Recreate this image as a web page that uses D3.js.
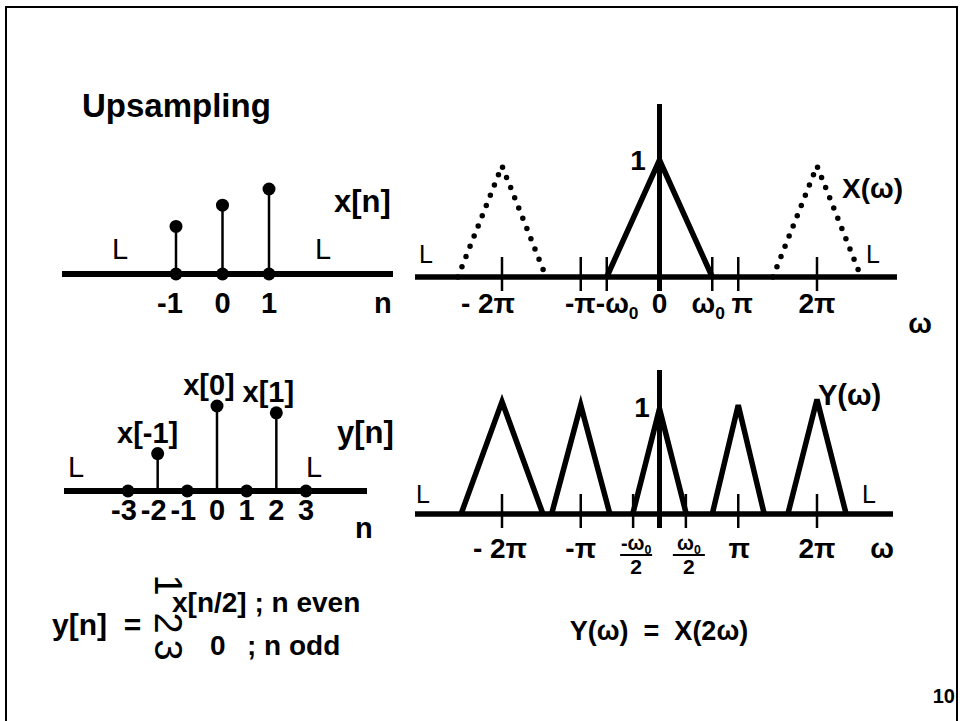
<!DOCTYPE html>
<html>
<head>
<meta charset="utf-8">
<script src="https://cdn.jsdelivr.net/npm/d3@7"></script>
<style>
  body { margin: 0; background: #fff; }
  text { font-family: 'Liberation Sans', Arial, sans-serif; fill: #000; white-space: pre; }
</style>
</head>
<body>
<div id="chart"></div>
<script>
// x[n] samples (top left)
const xnIndex = [-1, 0, 1];
const xnValue = [0.56, 0.81, 1.0];
const xnLabels = ["-1", "0", "1"];

// y[n] upsampled samples (bottom left)
const ynIndex = [-3, -2, -1, 0, 1, 2, 3];
const ynValue = [0, 0.44, 0, 1.0, 0, 0.92, 0];
const ynLabels = ["-3", "-2", "-1", "0", "1", "2", "3"];
const ynNames = ["", "x[-1]", "", "x[0]", "", "x[1]", ""];

// spectra, frequencies in units of pi
const w0 = 0.67;
const xwCenter = [0], xwHalf = [w0], xwHeight = [1];
const xwAliasCenter = [-2, 2], xwAliasHalf = [0.56, 0.56], xwAliasHeight = [0.95, 0.95];
const ywCenter = [-2, -1, 0, 1, 2];
const ywHalf = [0.52, 0.37, 0.34, 0.33, 0.37];
const ywHeight = [0.96, 0.93, 0.90, 0.93, 0.98];

const xwTicks = [-2, -1, -w0, w0, 1, 2];
const xwTickLabels = ["- 2π", "-π-ω0", "0", "ω0", "π", "2π"];
const xwLabelAt = [-2, -1, 0, w0, 1, 2];
const ywTicks = [-2, -1, -w0 / 2, w0 / 2, 1, 2];
const ywTickLabels = ["- 2π", "-π", "-ω0/2", "ω0/2", "π", "2π"];

const svg = d3.select("#chart").append("svg")
  .attr("width", 960).attr("height", 721);

// slide frame
svg.append("rect")
  .attr("x", 6).attr("y", 7).attr("width", 951).attr("height", 720)
  .attr("fill", "none").attr("stroke", "#000").attr("stroke-width", 2);

function label(x, y, t, size, opts = {}) {
  const el = svg.append("text")
    .attr("x", x).attr("y", y)
    .attr("font-size", size)
    .attr("font-weight", opts.normal ? "normal" : "bold")
    .attr("text-anchor", opts.anchor || "start");
  // omega with subscript zero
  const parts = t.split(/(ω0)/);
  parts.forEach(p => {
    if (p === "ω0") {
      el.append("tspan").text("ω");
      el.append("tspan").attr("font-size", size * 0.62).attr("dy", size * 0.22).text("0");
      el.append("tspan").attr("dy", -size * 0.22).text("");
    } else if (p) {
      el.append("tspan").text(p);
    }
  });
  return el;
}

label(82, 117, "Upsampling", 33);

// ---------- top left: x[n] ----------
const xL1 = d3.scaleLinear([-1, 1], [176, 269]);
const yL1 = d3.scaleLinear([0, 1], [274, 189]);

svg.append("line").attr("x1", 62).attr("x2", 393)
  .attr("y1", yL1(0)).attr("y2", yL1(0))
  .attr("stroke", "#000").attr("stroke-width", 6);

const g1 = svg.append("g");
xnIndex.forEach((n, i) => {
  g1.append("line").attr("x1", xL1(n)).attr("x2", xL1(n))
    .attr("y1", yL1(0)).attr("y2", yL1(xnValue[i]))
    .attr("stroke", "#000").attr("stroke-width", 2.5);
  g1.append("circle").attr("cx", xL1(n)).attr("cy", yL1(xnValue[i])).attr("r", 6.5);
  g1.append("circle").attr("cx", xL1(n)).attr("cy", yL1(0)).attr("r", 6.5);
  label(xL1(n) + (xnLabels[i][0] === "-" ? -6 : 0), 313, xnLabels[i], 29, { anchor: "middle" });
});
label(334, 212, "x[n]", 31);
label(374, 313, "n", 29);
label(112, 259, "L", 29, { normal: true });
label(315, 259, "L", 29, { normal: true });

// ---------- bottom left: y[n] ----------
const xL2 = d3.scaleLinear([-3, 3], [128, 306]);
const yL2 = d3.scaleLinear([0, 1], [491, 406]);

svg.append("line").attr("x1", 64).attr("x2", 367)
  .attr("y1", yL2(0)).attr("y2", yL2(0))
  .attr("stroke", "#000").attr("stroke-width", 6);

const g2 = svg.append("g");
ynIndex.forEach((n, i) => {
  if (ynValue[i] !== 0) {
    g2.append("line").attr("x1", xL2(n)).attr("x2", xL2(n))
      .attr("y1", yL2(0)).attr("y2", yL2(ynValue[i]))
      .attr("stroke", "#000").attr("stroke-width", 2.5);
  }
  g2.append("circle").attr("cx", xL2(n)).attr("cy", yL2(ynValue[i])).attr("r", 6.5);
  label(xL2(n) + (ynLabels[i][0] === "-" ? -4 : 0), 520, ynLabels[i], 29, { anchor: "middle" });
  if (ynNames[i]) {
    label(xL2(n) + (n < 0 ? -10 : -8), yL2(ynValue[i]) - 11, ynNames[i], 29, { anchor: "middle" });
  }
});
label(337, 443, "y[n]", 31);
label(355, 538, "n", 29);
label(68, 477, "L", 29, { normal: true });
label(306, 477, "L", 29, { normal: true });

// ---------- right panels ----------
const xR = d3.scaleLinear([-2, 2], [502, 817]);
const yR1 = d3.scaleLinear([0, 1], [277, 160]);
const yR2 = d3.scaleLinear([0, 1], [514, 397]);
const tri = d3.line();

function triangle(c, h, v, y) {
  return tri([[xR(c - h), y(0)], [xR(c), y(v)], [xR(c + h), y(0)]]);
}

function axisR(y, x1, x2, ticks, vTop) {
  svg.append("line").attr("x1", x1).attr("x2", x2)
    .attr("y1", y(0)).attr("y2", y(0))
    .attr("stroke", "#000").attr("stroke-width", 5.5);
  ticks.forEach(t => {
    svg.append("line").attr("x1", xR(t)).attr("x2", xR(t))
      .attr("y1", y(0) - 20).attr("y2", y(0) + 14)
      .attr("stroke", "#000").attr("stroke-width", 2.5);
  });
  svg.append("line").attr("x1", xR(0)).attr("x2", xR(0))
    .attr("y1", vTop).attr("y2", y(0) + 14)
    .attr("stroke", "#000").attr("stroke-width", 5);
}

// top right: X(w)
axisR(yR1, 415, 897, xwTicks, 104);
xwAliasCenter.forEach((c, i) => {
  svg.append("path").attr("d", triangle(c, xwAliasHalf[i], xwAliasHeight[i], yR1))
    .attr("fill", "none").attr("stroke", "#000").attr("stroke-width", 5.5)
    .attr("stroke-linecap", "round").attr("stroke-dasharray", "0,11");
});
xwCenter.forEach((c, i) => {
  svg.append("path").attr("d", triangle(c, xwHalf[i], xwHeight[i], yR1))
    .attr("fill", "none").attr("stroke", "#000").attr("stroke-width", 5.5)
    .attr("stroke-linejoin", "miter");
});
const xwDx = [-14, 21, 0, -4, 4, 0];
xwTickLabels.forEach((t, i) => {
  label(xR(xwLabelAt[i]) + xwDx[i], 313, t, 28, { anchor: "middle" });
});
label(638, 170, "1", 28, { anchor: "middle" });
label(842, 198, "X(ω)", 28);
label(920, 333, "ω", 28, { anchor: "middle" });
label(419, 263, "L", 25, { normal: true });
label(866, 263, "L", 25, { normal: true });

// bottom right: Y(w)
axisR(yR2, 415, 893, ywTicks, 370);
ywCenter.forEach((c, i) => {
  svg.append("path").attr("d", triangle(c, ywHalf[i], ywHeight[i], yR2))
    .attr("fill", "none").attr("stroke", "#000").attr("stroke-width", 5.5)
    .attr("stroke-linejoin", "miter");
});
const ywDx = [-2, 0, 3, 3, 1, 0];
ywTickLabels.forEach((t, i) => {
  const x = xR(ywTicks[i]) + ywDx[i];
  if (t.endsWith("/2")) {
    label(x, 550, t.replace("/2", ""), 20, { anchor: "middle" });
    svg.append("line").attr("x1", x - 16).attr("x2", x + 16)
      .attr("y1", 555).attr("y2", 555).attr("stroke", "#000").attr("stroke-width", 2);
    label(x, 574, "2", 21, { anchor: "middle" });
  } else {
    label(x, 558, t, 28, { anchor: "middle" });
  }
});
label(642, 417, "1", 28, { anchor: "middle" });
label(818, 405, "Y(ω)", 29);
label(882, 558, "ω", 28, { anchor: "middle" });
label(416, 503, "L", 25, { normal: true });
label(862, 503, "L", 25, { normal: true });

// ---------- equations ----------
label(52, 635, "y[n]  =", 30);
// broken brace glyphs
["1", "2", "3"].forEach((d, i) => {
  svg.append("text")
    .attr("transform", `translate(${169},${[585, 623, 650][i]}) rotate(90)`)
    .attr("text-anchor", "middle").attr("dy", "0.36em")
    .attr("font-size", 38).text(d);
});
label(172, 612, "x[n/2] ; n even", 28);
label(210, 655, "0", 28);
label(247, 655, "; n odd", 28);
label(659, 640, "Y(ω)  =  X(2ω)", 27, { anchor: "middle" });

label(955, 703, "10", 20, { anchor: "end" });
</script>
</body>
</html>
